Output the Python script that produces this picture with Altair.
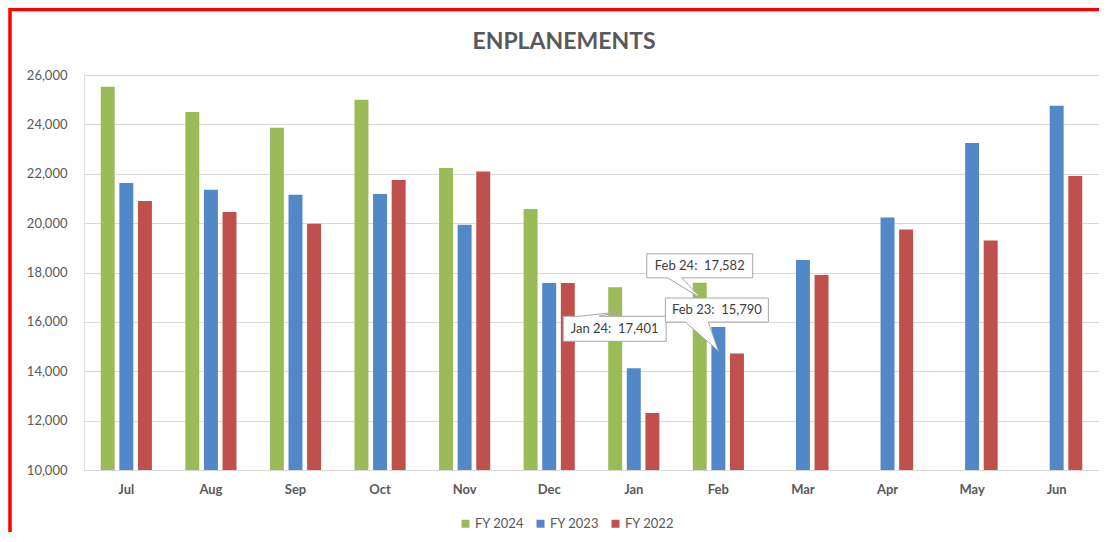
import altair as alt
import pandas as pd

# ---- data ----
months = ["Jul", "Aug", "Sep", "Oct", "Nov", "Dec", "Jan", "Feb", "Mar", "Apr", "May", "Jun"]
series = ["FY 2024", "FY 2023", "FY 2022"]
fy2024 = [25520, 24500, 23860, 25000, 22230, 20570, 17401, 17582, None, None, None, None]
fy2023 = [21630, 21350, 21150, 21180, 19930, 17570, 14120, 15790, 18510, 20230, 23250, 24750]
fy2022 = [20900, 20450, 19970, 21750, 22090, 17570, 12310, 14720, 17900, 19740, 19300, 21910]

callout_months = ["Jan", "Feb", "Feb"]
callout_series = ["FY 2024", "FY 2024", "FY 2023"]
callout_values = [17401, 17582, 15790]
callout_labels = ["Jan 24:\u00a0 17,401", "Feb 24:\u00a0 17,582", "Feb 23:\u00a0 15,790"]

y_ticks = [10000, 12000, 14000, 16000, 18000, 20000, 22000, 24000, 26000]

# ---- styles ----
colors = ["#9BBB59", "#5287C8", "#C0504D"]
FONT = "Lato"
GREY = "#595959"

rows = []
for s, vals in zip(series, [fy2024, fy2023, fy2022]):
    for m, v in zip(months, vals):
        if v is not None:
            rows.append({"month": m, "series": s, "value": v})
df = pd.DataFrame(rows)

x_enc = alt.X("month:N", sort=months,
              scale=alt.Scale(domain=months, paddingInner=0.395, paddingOuter=0.198),
              axis=alt.Axis(title=None, labelAngle=0, labelFont=FONT, labelFontSize=13,
                            labelFontWeight="bold", labelColor=GREY, ticks=False,
                            labelPadding=13, domainColor="#D9D9D9", grid=False))
xoff_enc = alt.XOffset("series:N", sort=series,
                       scale=alt.Scale(domain=series, paddingInner=0.25, paddingOuter=0))
y_scale = alt.Scale(domain=[10000, 26000], zero=False, nice=False)

bars = alt.Chart(df).mark_bar().encode(
    x=x_enc,
    xOffset=xoff_enc,
    y=alt.Y("value:Q", scale=y_scale,
            axis=alt.Axis(title=None, values=y_ticks, format=",d", labelFont=FONT,
                          labelFontSize=13, labelColor=GREY, ticks=False, domain=False,
                          labelPadding=17, gridColor="#D9D9D9")),
    y2=alt.datum(10000),
    color=alt.Color("series:N", sort=series,
                    scale=alt.Scale(domain=series, range=colors),
                    legend=alt.Legend(title=None, orient="none", direction="horizontal",
                                      legendX=375, legendY=442, symbolType="square",
                                      symbolSize=64, symbolStrokeWidth=0,
                                      labelFont=FONT, labelFontSize=13, labelColor=GREY,
                                      labelOffset=3, columnPadding=10, padding=0)),
)

# callout shapes (unit = 100 px, anchored at the bar top)
callout_paths = [
    "M -0.52 0.29 L -0.36 0.29 L 0.01 0.25 L -0.16 0.29 L 0.51 0.29 L 0.51 0.54 L -0.52 0.54 Z",
    "M -0.53 -0.29 L 0.53 -0.29 L 0.53 -0.05 L -0.18 -0.05 L 0.02 0.16 L -0.32 -0.05 L -0.53 -0.05 Z",
    "M -0.53 -0.29 L 0.50 -0.29 L 0.50 -0.05 L -0.10 -0.05 L 0.00 0.24 L -0.33 -0.05 L -0.53 -0.05 Z",
]
callout_text_offsets = [(-0.5, 41.5), (0, -17), (-1.5, -17)]

layers = [bars]
for i in range(len(callout_labels)):
    cdf = pd.DataFrame({"month": [callout_months[i]], "series": [callout_series[i]],
                        "value": [callout_values[i]], "label": [callout_labels[i]]})
    base = alt.Chart(cdf).encode(
        x=alt.X("month:N", sort=months),
        xOffset=alt.XOffset("series:N", sort=series),
        y=alt.Y("value:Q"),
    )
    box = base.mark_point(shape=callout_paths[i], size=40000, filled=True, fill="white",
                          opacity=1, stroke="#A6A6A6", strokeWidth=1)
    dx, dy = callout_text_offsets[i]
    txt = base.mark_text(font=FONT, fontSize=13, color="#404040", dx=dx, dy=dy,
                         align="center", baseline="middle").encode(text="label:N")
    layers += [box, txt]

# decorative red frame around the chart area
frame = alt.Chart(pd.DataFrame({"a": [0]})).mark_rect(
    fillOpacity=0, stroke="#FF0000", strokeWidth=3.5
).encode(x=alt.value(-74), x2=alt.value(1300), y=alt.value(-65.5), y2=alt.value(700))
layers.append(frame)

chart = alt.layer(*layers).properties(
    width=1015, height=395,
    title=alt.TitleParams(text="ENPLANEMENTS", font=FONT, fontSize=23, fontWeight="bold",
                          color=GREY, anchor="middle", frame="group", baseline="alphabetic",
                          offset=-64.5, dx=-27.5),
    autosize=alt.AutoSizeParams(type="none"),
    padding={"left": 76, "top": 67, "right": 0, "bottom": 62},
).configure_view(stroke=None).configure(background="white")

chart.save("out.html", embed_options={"renderer": "svg", "actions": False})
